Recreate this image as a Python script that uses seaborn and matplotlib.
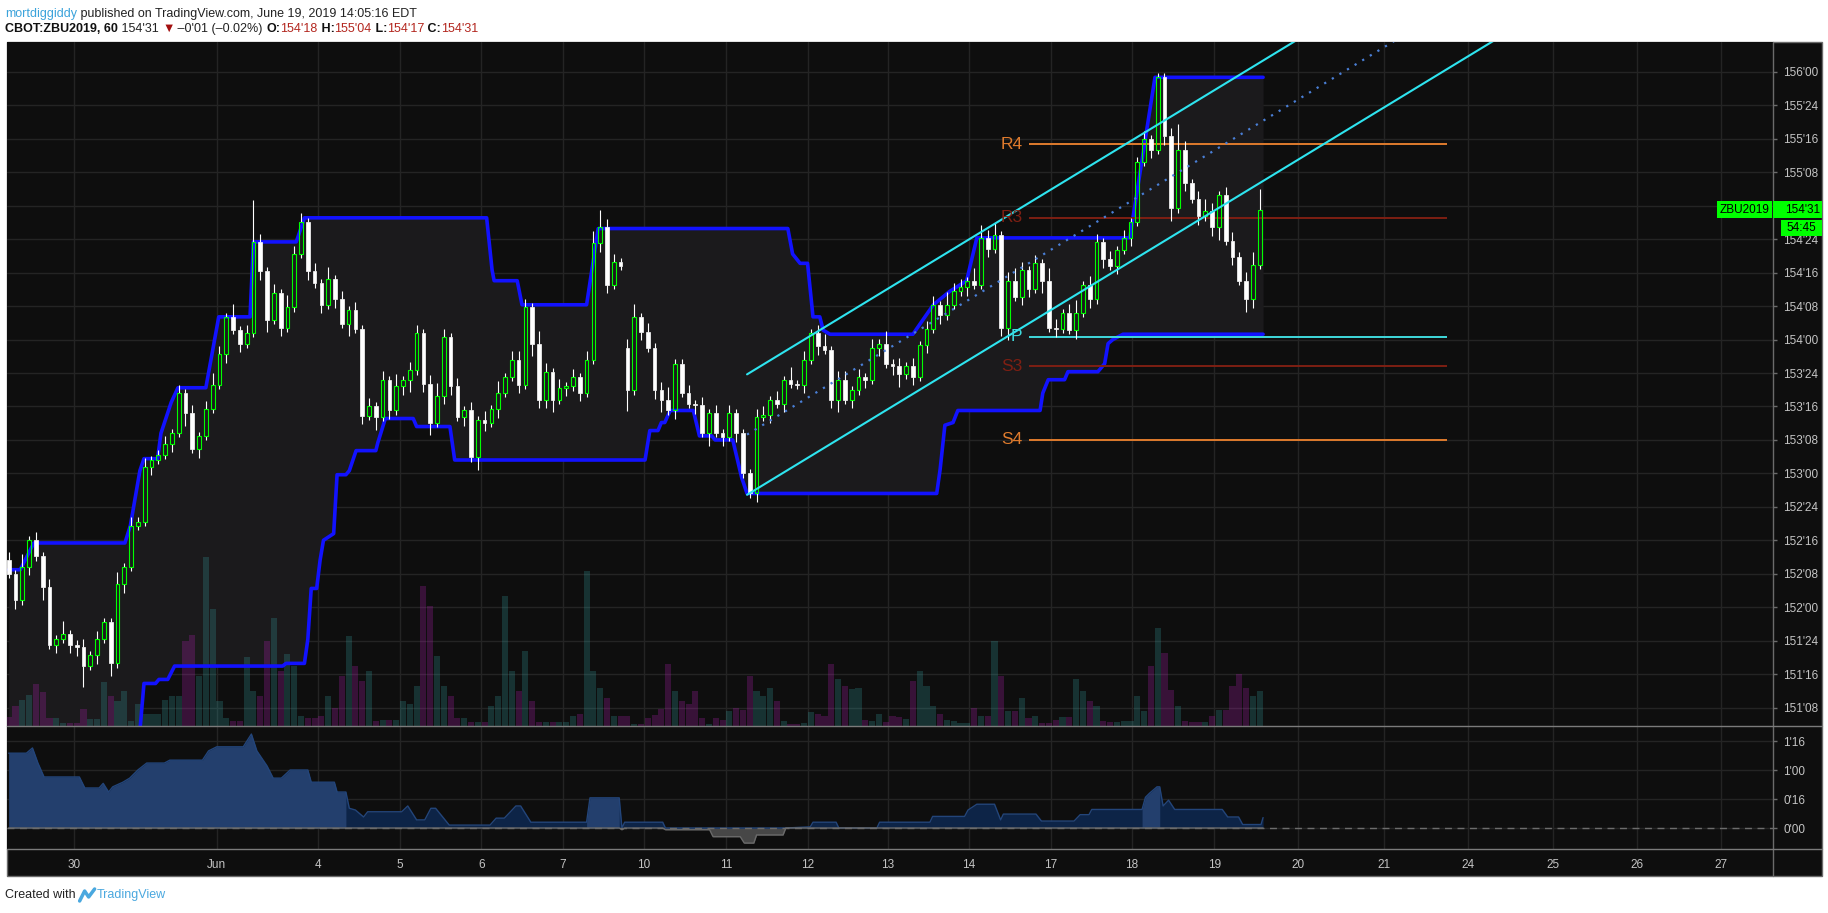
import numpy as np
import matplotlib
matplotlib.use("Agg")
import matplotlib.pyplot as plt
import seaborn as sns
from matplotlib.patches import Rectangle
from matplotlib.lines import Line2D

sns.set_style("dark")
plt.rcParams['font.family'] = ['Liberation Sans Narrow', 'Liberation Sans', 'DejaVu Sans']

# ZBU2019 bars (~12 bars per session), prices in points
closes = [
    152.25, 152.05, 152.30, 152.50, 152.38, 152.15, 151.72, 151.76, 151.80, 151.72,
    151.70, 151.56, 151.64, 151.76, 151.89, 151.58, 152.17, 152.30, 152.61, 152.64,
    153.05, 153.10, 153.14, 153.22, 153.30, 153.60, 153.45, 153.18, 153.28, 153.48,
    153.66, 153.89, 154.17, 154.07, 153.97, 154.05, 154.73, 154.51, 154.15, 154.35,
    154.09, 154.24, 154.64, 154.88, 154.51, 154.42, 154.26, 154.45, 154.30, 154.12,
    154.22, 154.08, 153.43, 153.50, 153.42, 153.70, 153.47, 153.65, 153.70, 153.77,
    154.05, 153.67, 153.38, 153.58, 154.02, 153.65, 153.42, 153.47, 153.12, 153.40,
    153.38, 153.48, 153.60, 153.72, 153.85, 153.66, 154.24, 153.97, 153.55, 153.76,
    153.55, 153.64, 153.65, 153.72, 153.60, 153.85, 154.72, 154.84, 154.41, 154.58,
    154.55, 153.62, 154.17, 154.06, 153.94, 153.62, 153.55, 153.47, 153.82, 153.60,
    153.52, 153.51, 153.30, 153.45, 153.30, 153.27, 153.45, 153.30, 153.00, 152.85,
    153.42, 153.44, 153.55, 153.52, 153.70, 153.67, 153.66, 153.85, 154.05, 153.95,
    153.92, 153.55, 153.70, 153.55, 153.62, 153.72, 153.70, 153.94, 153.97, 153.82,
    153.80, 153.74, 153.80, 153.72, 153.96, 154.08, 154.26, 154.18, 154.26, 154.36,
    154.39, 154.44, 154.41, 154.76, 154.68, 154.78, 154.09, 154.44, 154.32, 154.52,
    154.38, 154.57, 154.44, 154.09, 154.08, 154.20, 154.07, 154.20, 154.41, 154.30,
    154.73, 154.60, 154.55, 154.67, 154.76, 154.88, 155.33, 155.50, 155.42, 155.96,
    155.52, 154.98, 155.42, 155.17, 155.05, 154.92, 154.96, 154.84, 155.08, 154.74,
    154.62, 154.44, 154.30, 154.56, 154.97,
]
gap_opens = {0: 152.35, 91: 153.94}

# wicks beyond the body, in 32nds
wick_up = [
    2, 1, 3, 1, 2, 1, 2, 1, 3, 1, 1, 2, 1, 2, 1, 1, 3, 1, 2, 1,
    2, 1, 1, 2, 1, 2, 1, 2, 1, 2, 3, 2, 1, 3, 1, 2, 10, 2, 1, 2,
    1, 3, 2, 2, 1, 2, 1, 3, 1, 2, 1, 2, 1, 2, 1, 2, 1, 3, 1, 2,
    2, 1, 2, 3, 2, 1, 2, 1, 2, 1, 2, 1, 3, 1, 2, 2, 2, 1, 3, 2,
    1, 2, 1, 2, 1, 2, 3, 4, 2, 2, 1, 2, 3, 1, 2, 1, 2, 3, 1, 1,
    2, 1, 2, 1, 2, 1, 2, 1, 1, 1, 2, 2, 1, 2, 1, 3, 1, 2, 1, 2,
    3, 1, 2, 2, 1, 2, 1, 2, 1, 3, 1, 2, 1, 2, 1, 2, 2, 1, 3, 2,
    2, 1, 3, 3, 2, 3, 1, 2, 3, 2, 1, 2, 1, 3, 2, 1, 2, 3, 1, 2,
    2, 1, 2, 1, 2, 1, 1, 2, 1, 1, 1, 2, 6, 2, 1, 2, 3, 2, 1, 2,
    2, 1, 2, 3, 5,
]
wick_dn = [
    1, 2, 1, 2, 1, 3, 1, 2, 1, 2, 2, 5, 1, 2, 1, 3, 1, 2, 1, 1,
    1, 2, 1, 1, 2, 1, 3, 1, 2, 1, 1, 1, 2, 1, 2, 1, 1, 2, 3, 1,
    2, 1, 1, 1, 2, 1, 2, 1, 2, 1, 3, 1, 2, 1, 3, 1, 2, 1, 2, 3,
    1, 2, 3, 1, 2, 2, 1, 2, 1, 3, 2, 1, 2, 1, 1, 2, 1, 3, 2, 2,
    3, 1, 2, 1, 2, 1, 1, 2, 2, 1, 1, 5, 1, 2, 1, 2, 3, 1, 2, 1,
    1, 2, 1, 3, 1, 2, 1, 2, 1, 1, 2, 1, 2, 1, 2, 1, 1, 2, 1, 2,
    1, 2, 3, 1, 2, 1, 2, 1, 2, 1, 2, 3, 1, 2, 1, 2, 1, 2, 1, 1,
    1, 2, 1, 1, 2, 1, 2, 3, 1, 2, 2, 1, 3, 1, 2, 1, 1, 2, 1, 2,
    1, 2, 1, 2, 1, 2, 1, 1, 2, 1, 2, 3, 1, 2, 1, 2, 1, 2, 3, 1,
    2, 1, 3, 2, 1,
]

volume = [
    9, 20, 26, 31, 42, 34, 8, 8, 3, 3,
    3, 17, 7, 7, 44, 30, 25, 35, 5, 22,
    12, 12, 12, 26, 30, 30, 85, 91, 50, 169,
    117, 25, 8, 5, 5, 69, 35, 30, 85, 108,
    55, 72, 60, 10, 8, 8, 10, 30, 18, 50,
    90, 60, 45, 55, 5, 6, 6, 6, 25, 22,
    40, 140, 120, 70, 40, 30, 8, 8, 4, 4,
    4, 20, 30, 130, 55, 35, 75, 25, 4, 4,
    4, 4, 4, 10, 12, 155, 55, 38, 28, 10,
    10, 10, 2, 2, 8, 11, 17, 62, 35, 25,
    22, 35, 8, 2, 8, 6, 15, 18, 16, 50,
    35, 30, 38, 25, 5, 2, 2, 3, 14, 12,
    10, 62, 47, 40, 37, 38, 6, 5, 12, 4,
    10, 9, 7, 45, 55, 40, 20, 12, 6, 5,
    3, 3, 18, 10, 10, 85, 50, 15, 15, 28,
    8, 10, 3, 3, 6, 9, 9, 47, 35, 25,
    20, 5, 4, 4, 5, 5, 30, 15, 60, 98,
    73, 36, 20, 5, 4, 4, 4, 10, 16, 16,
    40, 52, 38, 30, 35,
]
VOL_PANE = 684   # volume units spanning the whole price pane

# price channel bands (bar index, price)
upper_x = [0, 1.7, 3.7, 17.1, 17.9, 19.3, 19.9, 21.9, 22.4, 23.9,
           24.9, 29.0, 30.9, 35.5, 36.0, 42.3, 43.5, 70.3, 71.1, 71.4,
           74.8, 75.5, 85.0, 86.7, 114.6, 115.3, 116.4, 117.5, 118.3, 119.3,
           119.8, 120.8, 133.0, 136.0, 138.4, 140.9, 142.4, 164.9, 168.6, 184.5]
upper_y = [152.28, 152.28, 152.48, 152.48, 152.61, 153.02, 153.11, 153.11, 153.30, 153.53,
           153.64, 153.64, 154.17, 154.17, 154.73, 154.73, 154.91, 154.91, 154.52, 154.44,
           154.44, 154.26, 154.26, 154.83, 154.83, 154.64, 154.57, 154.57, 154.17, 154.17,
           154.07, 154.04, 154.04, 154.26, 154.36, 154.44, 154.76, 154.76, 155.96, 155.96]
lower_x = [0, 19.0, 19.9, 21.6, 22.1, 23.4, 24.4, 40.3, 40.8, 43.5,
           44.0, 44.5, 45.3, 45.8, 46.3, 47.8, 48.3, 49.6, 50.1, 51.1,
           54.0, 54.3, 55.4, 59.5, 60.0, 64.9, 65.6, 93.6, 94.3, 95.5,
           96.0, 96.5, 97.3, 100.7, 101.6, 103.4, 103.9, 106.5, 107.8, 108.6,
           136.5, 137.0, 137.7, 138.9, 139.6, 151.7, 152.1, 152.9, 155.3, 155.8,
           160.2, 161.2, 161.7, 162.4, 163.9, 184.5]
lower_y = [150.90, 150.90, 151.43, 151.43, 151.46, 151.46, 151.56, 151.56, 151.58, 151.58,
           151.76, 152.14, 152.14, 152.35, 152.50, 152.55, 152.99, 152.99, 153.02, 153.17,
           153.17, 153.23, 153.41, 153.41, 153.35, 153.35, 153.10, 153.10, 153.32, 153.32,
           153.38, 153.38, 153.47, 153.47, 153.28, 153.28, 153.25, 153.25, 152.97, 152.85,
           152.85, 153.03, 153.36, 153.38, 153.47, 153.47, 153.60, 153.70, 153.70, 153.76,
           153.76, 153.82, 153.97, 154.00, 154.04, 154.04]

# lower pane oscillator (bar index, points)
ind_x = [0, 2.6, 3.5, 4.3, 5.2, 10.4, 11.2, 13.3, 13.9, 14.7,
         15.3, 16.8, 17.8, 19.0, 20.3, 22.9, 23.7, 28.5, 29.4, 30.6,
         34.5, 35.7, 36.5, 38.0, 38.9, 40.1, 41.4, 44.0, 44.5, 47.9,
         48.3, 49.6, 50.1, 51.0, 52.2, 52.8, 57.8, 58.7, 60.0, 61.2,
         62.1, 62.8, 64.8, 70.8, 71.7, 72.9, 73.8, 74.6, 75.3, 76.8,
         85.0, 85.5, 89.8, 90.2, 90.6, 96.2, 96.6, 103.1, 103.6, 107.6,
         108.2, 109.6, 110.0, 113.9, 114.3, 117.9, 118.3, 121.7, 122.1, 127.7,
         128.1, 135.5, 135.9, 140.6, 141.1, 142.4, 145.0, 145.9, 146.3, 151.1,
         151.9, 156.7, 157.6, 158.9, 159.3, 166.7, 167.2, 167.8, 168.9, 169.3,
         169.8, 170.6, 171.5, 178.5, 179.3, 180.9, 181.5, 184.2, 184.5]
ind_y = [1.29, 1.29, 1.38, 1.12, 0.88, 0.88, 0.69, 0.69, 0.77, 0.62,
         0.71, 0.79, 0.86, 1.00, 1.12, 1.12, 1.17, 1.17, 1.33, 1.40,
         1.40, 1.62, 1.33, 1.07, 0.86, 0.86, 1.00, 1.00, 0.79, 0.79,
         0.62, 0.62, 0.34, 0.31, 0.19, 0.28, 0.28, 0.38, 0.14, 0.14,
         0.34, 0.34, 0.05, 0.05, 0.17, 0.17, 0.28, 0.38, 0.38, 0.10,
         0.10, 0.52, 0.52, -0.03, 0.10, 0.10, -0.03, -0.03, -0.15, -0.15,
         -0.26, -0.26, -0.12, -0.12, 0.00, 0.02, 0.10, 0.10, 0.00, 0.00,
         0.10, 0.10, 0.20, 0.20, 0.31, 0.41, 0.41, 0.14, 0.24, 0.24,
         0.12, 0.12, 0.23, 0.23, 0.32, 0.32, 0.53, 0.60, 0.71, 0.71,
         0.38, 0.48, 0.32, 0.32, 0.19, 0.19, 0.06, 0.06, 0.18]
ind_light = [(0, 49.6), (85.0, 89.8), (166.7, 169.3)]

# regression channel drawn from the June 11 low
chan_start = 108.6
chan_low = 152.84
chan_slope = 0.0309
chan_width = 0.90

pivot_names = ['R4', 'R3', 'P', 'S3', 'S4']
pivot_levels = [155.46, 154.91, 154.02, 153.80, 153.25]
pivot_colors = ['#df7b2d', '#7e1f13', '#3fd9dc', '#7e1f13', '#df7b2d']
pivot_span = (150.0, 211.5)

day_ticks = [9.6, 30.6, 45.5, 57.5, 69.5, 81.5, 93.4, 105.5, 117.5, 129.3,
             141.2, 153.3, 165.2, 177.3, 189.7, 202.3, 214.6, 227.1, 239.5, 251.9]
day_labels = ['30', 'Jun', '4', '5', '6', '7', '10', '11', '12', '13',
              '14', '17', '18', '19', '20', '21', '24', '25', '26', '27']

price_ticks = np.arange(151.25, 156.01, 0.25)
osc_ticks = [0, 0.5, 1.0, 1.5]


def fmt32(p):
    whole = int(np.floor(p + 1e-9))
    return "%d'%02d" % (whole, int(round((p - whole) * 32)))


W, H = 1828, 913
BG = '#0e0e0e'
GRID = '#242424'
AXTXT = '#c4c4c4'
fig = plt.figure(figsize=(W / 100, H / 100), dpi=100, facecolor='white')


def fx(px):
    return px / W


def fy(py):
    return 1 - py / H


fig.add_artist(Rectangle((fx(6.5), fy(876)), fx(1822) - fx(6.5), fy(42) - fy(876),
                         transform=fig.transFigure, facecolor=BG, edgecolor='#6b6b6b',
                         lw=1, zorder=0))

ax = fig.add_axes([fx(6.5), fy(726), fx(1773) - fx(6.5), fy(42) - fy(726)])
ax2 = fig.add_axes([fx(6.5), fy(849), fx(1773) - fx(6.5), fy(726) - fy(849)])
for a in (ax, ax2):
    a.set_facecolor(BG)
    for s in a.spines.values():
        s.set_visible(False)
    a.set_axisbelow(True)
    a.grid(True, color=GRID, lw=1)
    a.set_xlim(-0.32, 259.5)
    a.set_xticks(day_ticks)
    a.yaxis.tick_right()

ax.set_ylim(151.112, 156.224)
ax2.set_ylim(-0.362, 1.759)

# ---- candles ----
n = len(closes)
idx = np.arange(n)
c = np.array(closes)
o = np.r_[gap_opens[0], c[:-1]]
for k, v in gap_opens.items():
    o[k] = v
top = np.maximum(o, c)
bot = np.minimum(o, c)
hi = top + np.array(wick_up) / 32
lo = bot - np.array(wick_dn) / 32
up = c >= o
body = np.maximum(top - bot, 0.006)

# channel shading between the bands
xx = np.union1d(upper_x, lower_x)
ax.fill_between(xx, np.interp(xx, lower_x, lower_y), np.interp(xx, upper_x, upper_y),
                color='#1b1a1c', lw=0, zorder=1)

# volume, scaled to the pane
vcol = np.where(up[:, None], [[0.2, 0.63, 0.63, 0.25]], [[0.72, 0.12, 0.72, 0.25]])
ax.bar(idx, np.array(volume) / VOL_PANE, bottom=0, width=0.9, color=vcol, lw=0,
       transform=ax.get_xaxis_transform(), zorder=2)

sns.lineplot(x=upper_x, y=upper_y, ax=ax, color='#1212ff', lw=2.6, estimator=None,
             sort=False, zorder=3)
sns.lineplot(x=lower_x, y=lower_y, ax=ax, color='#1212ff', lw=2.6, estimator=None,
             sort=False, zorder=3)

ax.vlines(idx, top, hi, color='white', lw=0.8, zorder=4)
ax.vlines(idx, lo, bot, color='white', lw=0.8, zorder=4)
ax.bar(idx[up], body[up], bottom=bot[up], width=0.55, facecolor='none',
       edgecolor='#00ff00', lw=0.8, zorder=5)
ax.bar(idx[~up], body[~up], bottom=bot[~up], width=0.55, facecolor='white',
       edgecolor='white', lw=0.5, zorder=5)

# regression channel
cx = np.array([chan_start, 320.0])
base = chan_low + chan_slope * (cx - chan_start)
ax.plot(cx, base, color='#2ee4ef', lw=1.5, zorder=6)
ax.plot(cx, base + chan_width, color='#2ee4ef', lw=1.5, zorder=6)
ax.plot(cx, base + chan_width / 2, color='#4a7fd6', lw=1.6, ls=(0, (1, 3)), zorder=6)

# pivots
for name, lvl, col in zip(pivot_names, pivot_levels, pivot_colors):
    ax.hlines(lvl, *pivot_span, color=col, lw=1.4, zorder=3)
    ax.text(pivot_span[0] - 0.9, lvl, name, color=col, fontsize=12.5, ha='right',
            va='center', family=['Liberation Sans', 'DejaVu Sans'], zorder=6)

# ---- oscillator pane ----
ix = np.array(ind_x)
iy = np.array(ind_y)
ax2.fill_between(ix, 0, np.maximum(iy, 0), color='#0d2447', lw=0, zorder=2)
for a0, a1 in ind_light:
    m = (ix >= a0) & (ix <= a1)
    ax2.fill_between(ix[m], 0, np.maximum(iy[m], 0), color='#233f6d', lw=0, zorder=3)
ax2.fill_between(ix, np.minimum(iy, 0), 0, color='#474747', lw=0, zorder=2)
sns.lineplot(x=ind_x, y=np.maximum(iy, 0), ax=ax2, color='#23457a', lw=1.0,
             estimator=None, sort=False, zorder=4)
sns.lineplot(x=ind_x, y=np.minimum(iy, 0), ax=ax2, color='#6a6a6a', lw=1.0,
             estimator=None, sort=False, zorder=4)
ax2.axhline(0, color='#6c6c6c', lw=1, ls=(0, (5, 4)), zorder=5)

# ---- axes text ----
ax.set_yticks(price_ticks)
ax.set_yticklabels([fmt32(p) for p in price_ticks])
ax2.set_yticks(osc_ticks)
ax2.set_yticklabels([fmt32(p) for p in osc_ticks])
ax.set_xticklabels([])
ax2.set_xticklabels(day_labels)
for a in (ax, ax2):
    a.tick_params(axis='y', direction='out', length=3, width=1, color='#6b6b6b',
                  labelcolor=AXTXT, labelsize=8.5, pad=4.5)
    a.set_xlabel('')
    a.set_ylabel('')
ax.tick_params(axis='x', length=0)
ax2.tick_params(axis='x', direction='out', length=3, width=1, color='#6b6b6b',
                labelcolor=AXTXT, labelsize=8.5, pad=4.5)

# pane separators
for (x0, y0, x1, y1, col) in [(1773, 42, 1773, 876, '#6b6b6b'),
                              (6.5, 726, 1822, 726, '#7b7b7b'),
                              (6.5, 849, 1822, 849, '#7b7b7b')]:
    fig.add_artist(Line2D([fx(x0), fx(x1)], [fy(y0), fy(y1)], color=col, lw=1,
                          transform=fig.transFigure, zorder=20))

# last price tags
yd = ax.transData.transform((0, closes[-1]))[1]


def tag(x0, x1, yc, h, text, ha='left', tx=None):
    fig.add_artist(Rectangle((x0, yc - h / 2), x1 - x0, h, transform=None,
                             facecolor='#00ff00', edgecolor='none', zorder=30))
    fig.text((tx if tx is not None else x0 + 5) / W, yc / H, text, color='black',
             fontsize=8.5, ha=ha, va='center', zorder=31)


tag(1717, 1772, yd, 17, 'ZBU2019', ha='center', tx=1744.5)
tag(1773, 1822, yd, 17, fmt32(closes[-1]), tx=1785)
tag(1781, 1822, yd - 18, 16, '54:45', tx=1786)

# ---- header / footer ----
rend = fig.canvas.get_renderer()


def pieces(x_px, y_px, parts, size):
    x = x_px
    for s, col, wt in parts:
        t = fig.text(fx(x), fy(y_px), s, color=col, fontsize=size, fontweight=wt,
                     ha='left', va='center')
        x += t.get_window_extent(renderer=rend).width
    return x


pieces(5, 14, [('mortdiggiddy', '#3ba3db', 'normal'),
               (' published on TradingView.com, June 19, 2019 14:05:16 EDT', '#222222', 'normal')], 9)
pieces(5, 29, [('CBOT:ZBU2019, 60', '#111111', 'bold'),
               (" 154'31 ", '#222222', 'normal'),
               ('\u25bc', '#a30f0f', 'normal'),
               (' \u20130\'01 (\u20130.02%) ', '#222222', 'normal'),
               ('O:', '#111111', 'bold'), ("154'18", '#b3261e', 'normal'),
               (' H:', '#111111', 'bold'), ("155'04", '#b3261e', 'normal'),
               (' L:', '#111111', 'bold'), ("154'17", '#b3261e', 'normal'),
               (' C:', '#111111', 'bold'), ("154'31", '#b3261e', 'normal')], 9)

xe = pieces(5, 895, [('Created with', '#222222', 'normal')], 9)
fig.add_artist(Line2D([fx(xe + 4), fx(xe + 9), fx(xe + 13), fx(xe + 19)],
                      [fy(901), fy(891), fy(897), fy(889)], color='#4aa8df', lw=2.5,
                      transform=fig.transFigure))
pieces(xe + 21, 895, [('TradingView', '#4aa8df', 'normal')], 9)

fig.savefig('out.png', dpi=100, facecolor='white')
